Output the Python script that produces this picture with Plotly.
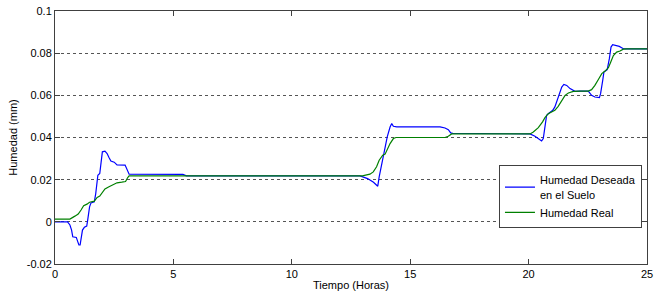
import plotly.graph_objects as go

# Humedad Deseada en el Suelo (blue)
t_deseada = [0, 0.53, 0.63, 0.70, 0.75, 0.90, 0.96, 1.01, 1.06, 1.10, 1.16, 1.24, 1.34, 1.38,
             1.46, 1.52, 1.66, 1.72, 1.78, 1.81, 1.89, 1.94, 2.00, 2.11, 2.20, 2.28, 2.36, 2.50,
             2.62, 2.96, 3.04, 3.13, 5.40, 5.55, 12.88, 13.2, 13.45, 13.63, 13.69, 13.79, 13.89,
             14.03, 14.15, 14.22, 14.29, 14.43, 16.26, 16.47, 16.61, 16.71, 16.80, 19.64, 20.06,
             20.27, 20.41, 20.55, 20.62, 20.69, 20.76, 20.87, 21.02, 21.11, 21.25, 21.40, 21.49,
             21.61, 21.75, 21.86, 21.96, 22.17, 22.52, 22.66, 22.80, 22.99, 23.04, 23.13, 23.18,
             23.27, 23.32, 23.41, 23.48, 23.55, 23.72, 23.83, 23.93, 24.00, 24.10, 25.0]
h_deseada = [0, 0, -0.0015, -0.0039, -0.0071, -0.0074, -0.0094, -0.011, -0.011, -0.0086, -0.0039,
             -0.0026, -0.002, 0.0008, 0.0071, 0.009, 0.0095, 0.0134, 0.0182, 0.0221, 0.0229,
             0.0292, 0.0332, 0.0335, 0.0324, 0.0305, 0.0288, 0.0283, 0.027, 0.0269, 0.0245,
             0.0226, 0.0225, 0.0218, 0.0218, 0.0205, 0.0188, 0.0169, 0.0213, 0.0269, 0.0316,
             0.0403, 0.045, 0.0466, 0.0453, 0.045, 0.045, 0.0445, 0.0437, 0.0422, 0.042, 0.0417,
             0.0417, 0.0406, 0.0395, 0.0384, 0.0395, 0.045, 0.0505, 0.0516, 0.0529, 0.0545,
             0.0592, 0.0639, 0.0652, 0.0647, 0.0632, 0.0624, 0.0619, 0.062, 0.062, 0.06, 0.0592,
             0.0589, 0.0608, 0.0671, 0.071, 0.0718, 0.0722, 0.0774, 0.0829, 0.084, 0.0837,
             0.0832, 0.0826, 0.0821, 0.082, 0.082]

# Humedad Real (green)
t_real = [0, 0.63, 0.84, 0.98, 1.10, 1.21, 1.35, 1.46, 1.66, 1.78, 1.89, 2.00, 2.11, 2.28, 2.42,
          2.62, 2.82, 2.98, 3.07, 3.13, 12.98, 13.30, 13.44, 13.58, 13.69, 13.84, 13.94, 14.03,
          14.15, 14.29, 14.40, 16.47, 16.61, 16.75, 20.06, 20.20, 20.41, 20.59, 20.69, 20.83,
          20.97, 21.11, 21.25, 21.40, 21.54, 21.68, 21.89, 22.17, 22.52, 22.66, 22.80, 22.94,
          23.09, 23.23, 23.37, 23.47, 23.58, 23.72, 23.86, 24.00, 24.15, 25.0]
h_real = [0.0013, 0.0013, 0.0027, 0.0037, 0.0056, 0.0076, 0.0084, 0.0093, 0.0098, 0.0116, 0.0122,
          0.0142, 0.0156, 0.0166, 0.0175, 0.0185, 0.0188, 0.0191, 0.021, 0.0218, 0.0218, 0.0226,
          0.0237, 0.0261, 0.0292, 0.0316, 0.0321, 0.0343, 0.0371, 0.0395, 0.04, 0.04, 0.0406,
          0.0417, 0.0417, 0.0426, 0.0447, 0.0474, 0.0494, 0.0513, 0.0521, 0.0529, 0.0548, 0.0573,
          0.06, 0.0611, 0.0619, 0.062, 0.062, 0.0627, 0.0647, 0.0674, 0.0703, 0.0715, 0.0731,
          0.0758, 0.0789, 0.0805, 0.081, 0.0819, 0.082, 0.082]

x_ticks = [0, 5, 10, 15, 20, 25]
y_ticks = [-0.02, 0, 0.02, 0.04, 0.06, 0.08, 0.1]
y_ticklabels = ["-0.02", "0", "0.02", "0.04", "0.06", "0.08", "0.1"]

font = "Liberation Sans, Arial, sans-serif"

fig = go.Figure()
fig.add_trace(go.Scatter(x=t_deseada, y=h_deseada, mode="lines",
                         name="Humedad Deseada<br>en el Suelo",
                         line=dict(color="#0000ff", width=1.2)))
fig.add_trace(go.Scatter(x=t_real, y=h_real, mode="lines", name="Humedad Real",
                         line=dict(color="#008000", width=1.2)))

axis_common = dict(showline=True, linecolor="#404040", linewidth=1, mirror="ticks",
                   ticks="inside", ticklen=5, tickcolor="#404040", zeroline=False,
                   automargin=False,
                   tickfont=dict(family=font, size=11, color="#000000"))

fig.update_xaxes(range=[0, 25], tickvals=x_ticks, showgrid=False,
                 title=dict(text="Tiempo (Horas)", font=dict(family=font, size=11, color="#000"),
                            standoff=2),
                 **axis_common)
fig.update_yaxes(range=[-0.02, 0.1], tickvals=y_ticks, ticktext=y_ticklabels,
                 showgrid=True, gridcolor="#555555", griddash="dot", gridwidth=1,
                 title=dict(text="Humedad (mm)", font=dict(family=font, size=11, color="#000"),
                            standoff=6),
                 **axis_common)

fig.update_layout(
    width=657, height=291,
    margin=dict(l=55, r=10, t=11, b=27),
    paper_bgcolor="white", plot_bgcolor="white",
    font=dict(family=font, size=11, color="#000"),
    legend=dict(x=0.9915, y=0.39, xanchor="right", yanchor="top",
                bgcolor="white", bordercolor="#404040", borderwidth=1,
                font=dict(family=font, size=11, color="#000"),
                tracegroupgap=0, itemwidth=30),
    showlegend=True,
)

fig.write_html("out.html", config={"displayModeBar": False},
               post_script="document.body.style.margin='0';")
